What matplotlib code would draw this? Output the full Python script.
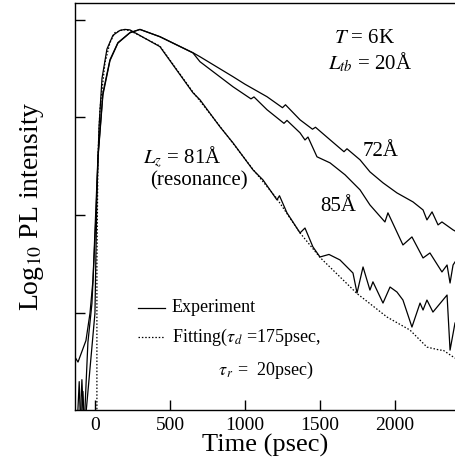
import matplotlib
matplotlib.use('Agg')
import matplotlib.pyplot as plt

plt.rcParams['font.family'] = ['Liberation Serif', 'DejaVu Serif']
plt.rcParams['mathtext.fontset'] = 'stix'

# time (psec) and log10 PL intensity
t_72 = [-133, -113, -60, -33, -13, 20, 53, 100, 153, 233, 300, 433, 653, 700,
        920, 1000, 1147, 1250, 1270, 1367, 1450, 1470, 1567, 1660, 1680, 1767,
        1833, 1920, 2013, 2120, 2187, 2213, 2247, 2287, 2313, 2387, 2400]
y_72 = [-3.45, -3.50, -3.28, -3.00, -2.66, -1.40, -0.75, -0.41, -0.235, -0.133,
        -0.10, -0.174, -0.338, -0.379, -0.583, -0.66, -0.788, -0.90, -0.87,
        -1.024, -1.12, -1.10, -1.228, -1.35, -1.32, -1.433, -1.556, -1.668,
        -1.771, -1.863, -1.945, -2.047, -1.965, -2.098, -2.068, -2.149, -2.16]

t_85 = [-100, -87, -73, -47, -20, 7, 20, 53, 100, 153, 233, 300, 433, 653, 700,
        920, 1040, 1060, 1147, 1260, 1280, 1367, 1400, 1420, 1480, 1567, 1667,
        1767, 1833, 1933, 1953, 2053, 2113, 2187, 2233, 2313, 2347, 2367, 2387,
        2400]
y_85 = [-4.2, -3.68, -4.2, -3.30, -2.90, -2.00, -1.42, -0.77, -0.42, -0.24,
        -0.135, -0.10, -0.175, -0.34, -0.43, -0.686, -0.81, -0.79, -0.921,
        -1.06, -1.03, -1.157, -1.23, -1.20, -1.402, -1.464, -1.586, -1.74,
        -1.894, -2.068, -1.975, -2.303, -2.221, -2.436, -2.385, -2.579, -2.508,
        -2.692, -2.508, -2.477]

t_81 = [-120, -105, -95, -80, -70, 0, 13, 27, 47, 80, 120, 167, 200, 233, 433,
        653, 700, 833, 920, 1053, 1120, 1213, 1230, 1280, 1367, 1400, 1453, 1500,
        1560, 1633, 1720, 1747, 1787, 1833, 1853, 1920, 1967, 2013, 2053, 2113,
        2167, 2187, 2213, 2253, 2347, 2367, 2400]
y_81 = [-4.2, -3.70, -4.2, -3.80, -4.2, -3.0, -1.8, -1.1, -0.6, -0.3, -0.16,
        -0.11, -0.10, -0.105, -0.276, -0.747, -0.819, -1.095, -1.259, -1.535,
        -1.638, -1.842, -1.80, -1.975, -2.180, -2.13, -2.323, -2.426, -2.40,
        -2.456, -2.59, -2.794, -2.528, -2.764, -2.68, -2.897, -2.733, -2.784,
        -2.866, -3.142, -2.897, -2.968, -2.866, -2.989, -2.815, -3.378, -3.101]

t_fit = [13, 13, 20, 33, 67, 100, 133, 187, 233, 433, 653, 833, 1053, 1213,
         1367, 1500, 1747, 1947, 2100, 2213, 2300, 2320, 2400]
y_fit = [-4.5, -2.5, -1.40, -0.92, -0.44, -0.235, -0.133, -0.102, -0.112,
         -0.27, -0.74, -1.09, -1.53, -1.83, -2.18, -2.43, -2.80, -3.04, -3.173,
         -3.347, -3.378, -3.378, -3.46]

fig = plt.figure(figsize=(4.55, 4.71), dpi=100)
ax = fig.add_axes([75 / 455, 61 / 471, 380 / 455, 407 / 471])

lw = 0.9
ax.plot(t_72, y_72, color='black', lw=lw)
ax.plot(t_85, y_85, color='black', lw=lw)
ax.plot(t_81, y_81, color='black', lw=lw)
ax.plot(t_fit, y_fit, color='black', lw=lw, ls=(0, (1.2, 1.5)))

ax.set_xlim(-133, 2400)
ax.set_ylim(-3.99, 0.17)
ax.set_xticks([0, 500, 1000, 1500, 2000])
ax.set_yticks([0, -1, -2, -3])
ax.tick_params(direction='in', length=7, width=1, labelsize=14, pad=5)
ax.tick_params(axis='y', labelleft=False)
ax.spines['right'].set_visible(False)
for s in ['left', 'bottom', 'top']:
    ax.spines[s].set_linewidth(1.0)

ax.set_xlabel('Time (psec)', fontsize=19, labelpad=0)
ax.set_ylabel('Log$_{10}$ PL intensity', fontsize=20, labelpad=21)

tr = ax.transAxes
ax.text(0.763, 0.914, '$T$ = 6K', transform=tr, fontsize=15, ha='center', va='center')
ax.text(0.776, 0.855, '$L_{tb}$ = 20Å', transform=tr, fontsize=15, ha='center', va='center')
ax.text(0.803, 0.636, '72Å', transform=tr, fontsize=15, ha='center', va='center')
ax.text(0.692, 0.501, '85Å', transform=tr, fontsize=15, ha='center', va='center')
ax.text(0.179, 0.622, '$L_z$ = 81Å', transform=tr, fontsize=15, ha='left', va='center')
ax.text(0.197, 0.563, '(resonance)', transform=tr, fontsize=15, ha='left', va='center')

# legend drawn by hand
ax.plot([0.166, 0.237], [0.251, 0.251], transform=tr, color='black', lw=lw)
ax.plot([0.166, 0.237], [0.179, 0.179], transform=tr, color='black', lw=lw,
        ls=(0, (1.2, 1.5)))
ax.text(0.255, 0.251, 'Experiment', transform=tr, fontsize=13, va='center')
ax.text(0.255, 0.179, r'Fitting($\tau_{\,d}$ =175psec,', transform=tr,
        fontsize=13, va='center')
ax.text(0.376, 0.098, r'$\tau_{\,r}$ =  20psec)', transform=tr, fontsize=13,
        va='center')

fig.savefig('out.png', dpi=100)
